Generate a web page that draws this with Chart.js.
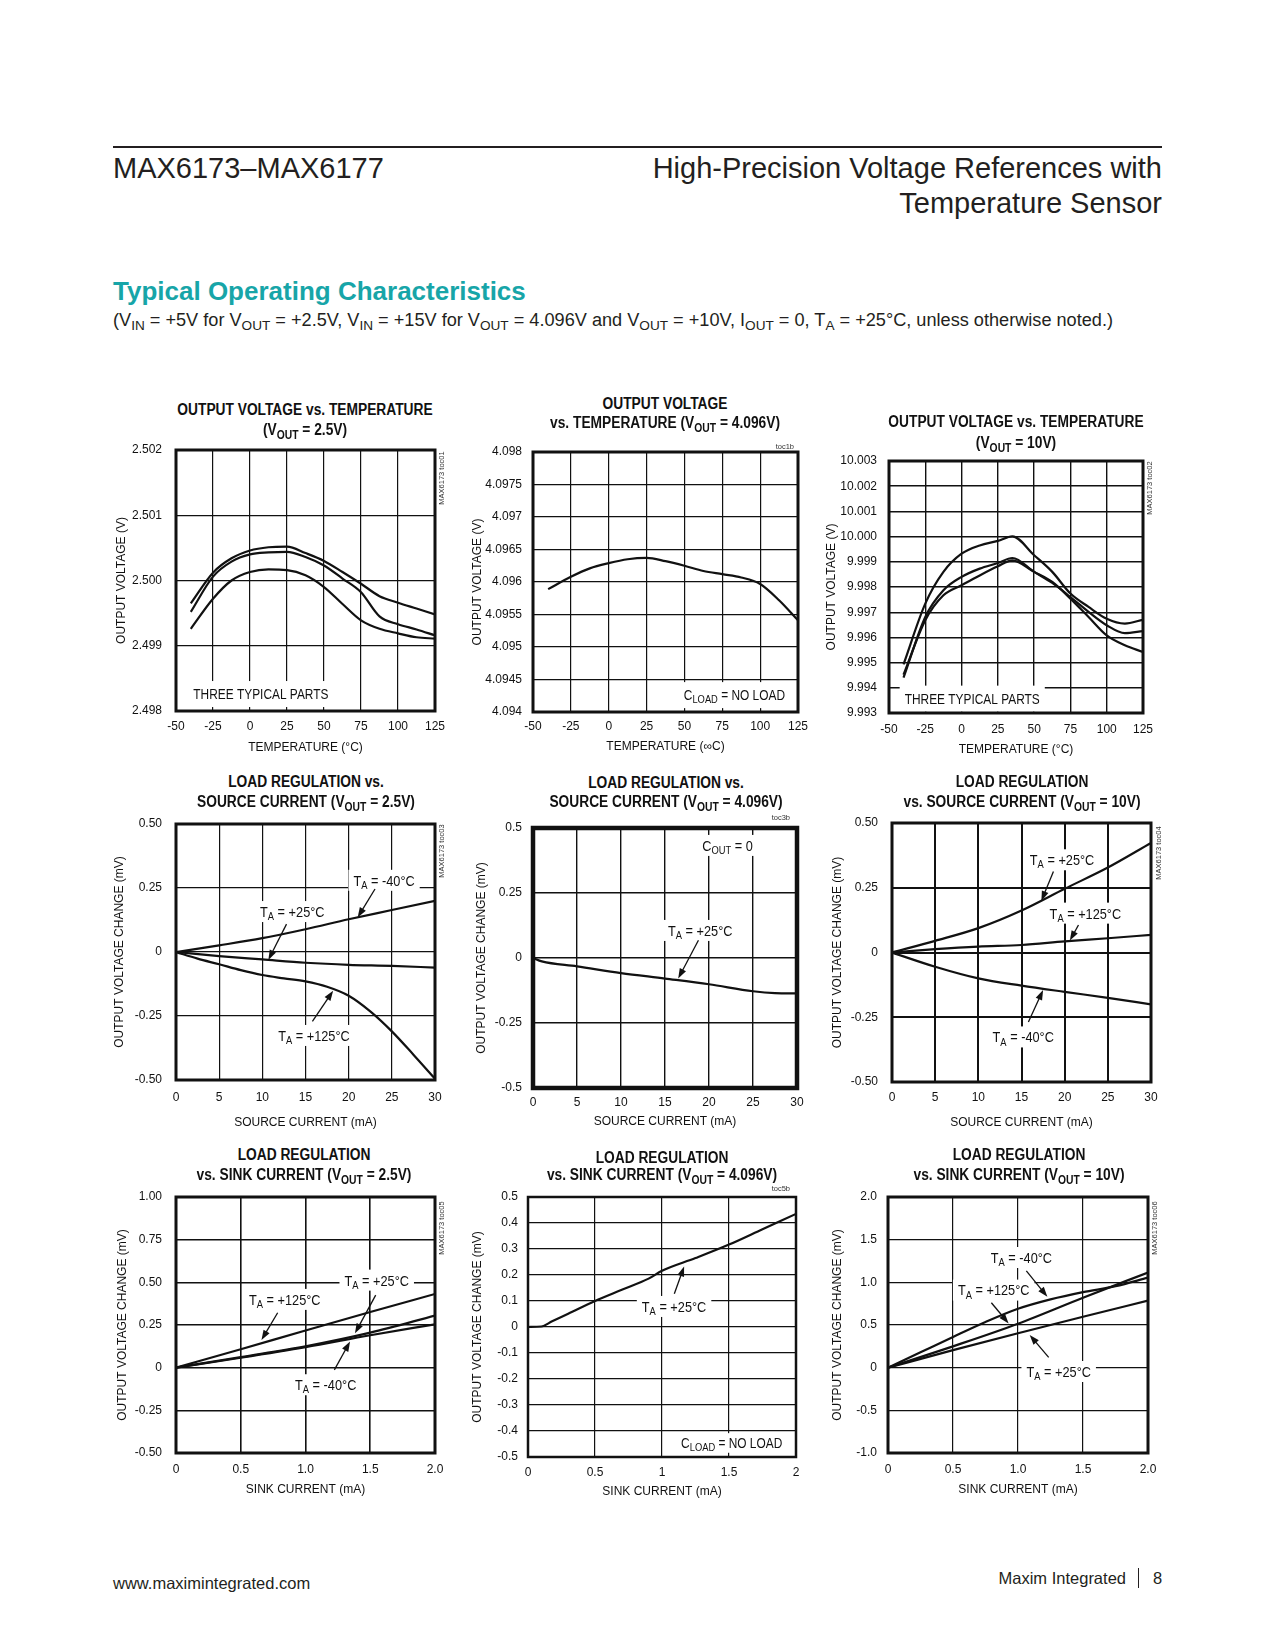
<!DOCTYPE html>
<html>
<head>
<meta charset="utf-8">
<script src="https://cdn.jsdelivr.net/npm/chart.js@4.4.0/dist/chart.umd.min.js"></script>
<style>
  body { margin: 0; background: #fff; }
  #page { position: relative; width: 1275px; height: 1650px; overflow: hidden;
          font-family: "Liberation Sans", Arial, sans-serif; color: #231f20; }
  .abs { position: absolute; white-space: nowrap; }
  .ct { position: absolute; white-space: nowrap; transform: translateX(-50%) scaleX(0.86);
        font-family: "Liberation Sans", Arial, sans-serif;
        font-weight: bold; font-size: 16px; line-height: 20px; color: #111; }
  sub { font-size: 0.75em; vertical-align: -0.3em; line-height: 0; }
  canvas { position: absolute; }
</style>
</head>
<body>
<div id="page">
  <div class="abs" style="left:113px;top:146px;width:1049px;height:2px;background:#231f20"></div>
  <div class="abs" style="left:113px;top:154px;font-size:29px;line-height:29px">MAX6173–MAX6177</div>
  <div class="abs" style="right:113px;top:154px;font-size:29px;line-height:29px">High-Precision Voltage References with</div>
  <div class="abs" style="right:113px;top:189px;font-size:29px;line-height:29px">Temperature Sensor</div>
  <div class="abs" style="left:113px;top:278px;font-size:26px;line-height:26px;font-weight:bold;color:#17a5a8">Typical Operating Characteristics</div>
  <div class="abs" style="left:113px;top:311px;font-size:18.15px;line-height:18px">(V<sub>IN</sub> = +5V for V<sub>OUT</sub> = +2.5V, V<sub>IN</sub> = +15V for V<sub>OUT</sub> = 4.096V and V<sub>OUT</sub> = +10V, I<sub>OUT</sub> = 0, T<sub>A</sub> = +25°C, unless otherwise noted.)</div>

  <div class="abs" style="left:113px;top:1575px;font-size:16.5px;line-height:16px">www.maximintegrated.com</div>
  <div class="abs" style="right:149px;top:1570px;font-size:16.5px;line-height:16px">Maxim Integrated</div>
  <div class="abs" style="left:1138px;top:1568px;width:1px;height:20px;background:#231f20"></div>
  <div class="abs" style="left:1153px;top:1570px;font-size:16.5px;line-height:16px">8</div>
</div>

<script>
const FONT = '"Liberation Sans", Arial, sans-serif';
const SQUEEZE = 0.85;   // the original uses a narrow face; canvas notes are squeezed to match

// ---- values ----
const tempPts = [-40, -25, -12.5, 0, 12.5, 25, 37.5, 50, 62.5, 75, 87.5, 100, 112.5, 125];
const part25A = [2.49965, 2.50012, 2.50034, 2.50046, 2.50051, 2.50052, 2.50042, 2.50030, 2.50013, 2.49995, 2.49976, 2.49966, 2.49957, 2.49948];
const part25B = [2.49952, 2.50006, 2.50029, 2.50040, 2.50043, 2.50044, 2.50036, 2.50023, 2.50003, 2.49982, 2.49945, 2.49933, 2.49925, 2.49916];
const part25C = [2.49926, 2.49972, 2.50000, 2.50013, 2.50017, 2.50016, 2.50008, 2.49990, 2.49964, 2.49939, 2.49926, 2.49919, 2.49913, 2.49911];

const vout4096 = [4.09589, 4.09608, 4.09621, 4.09629, 4.09635, 4.09637, 4.09632, 4.09625, 4.09617, 4.09612, 4.09607, 4.09597, 4.09572, 4.09541];

const tempPts10 = [-40, -25, -12.5, 0, 12.5, 25, 35, 50, 62.5, 75, 87.5, 100, 112.5, 125];
const part10A = [9.99493, 9.99734, 9.99860, 9.99932, 9.99965, 9.99983, 10.00001, 9.99926, 9.99860, 9.99774, 9.99721, 9.99674, 9.99655, 9.99670];
const part10B = [9.99440, 9.99681, 9.99787, 9.99840, 9.99873, 9.99895, 9.99915, 9.99860, 9.99816, 9.99760, 9.99701, 9.99648, 9.99617, 9.99625];
const part10C = [9.99452, 9.99668, 9.99767, 9.99807, 9.99846, 9.99882, 9.99906, 9.99860, 9.99820, 9.99754, 9.99681, 9.99608, 9.99569, 9.99542];

const srcPts = [0, 5, 10, 15, 20, 25, 30];
const srcPtsFine = [0, 2.5, 5, 7.5, 10, 12.5, 15, 17.5, 20, 22.5, 25, 27.5, 30];
const src25m40 = [0, 0.026, 0.054, 0.089, 0.128, 0.164, 0.200];
const src25p25 = [0, -0.016, -0.029, -0.042, -0.050, -0.054, -0.061];
const src25p125 = [0, -0.026, -0.048, -0.071, -0.090, -0.103, -0.115, -0.136, -0.171, -0.232, -0.310, -0.401, -0.495];

const srcPts4096 = [0, 1, 5, 10, 15, 20, 25, 27.5, 30];
const src4096 = [0, -0.013, -0.032, -0.058, -0.079, -0.101, -0.128, -0.135, -0.136];

const src10p25 = [0, 0.045, 0.094, 0.162, 0.246, 0.328, 0.423];
const src10p125 = [0, 0.013, 0.023, 0.029, 0.043, 0.055, 0.068];
const src10m40 = [0, -0.055, -0.100, -0.128, -0.152, -0.175, -0.200];

const sinkPts = [0, 0.5, 1.0, 1.5, 2.0];
const sink25p125 = [0, 0.108, 0.218, 0.326, 0.432];
const sink25p25 = [0, 0.062, 0.125, 0.205, 0.305];
const sink25m40 = [0, 0.058, 0.120, 0.190, 0.254];

const sinkPts4096 = [0, 0.1, 0.18, 0.3, 0.5, 0.7, 0.9, 1.0, 1.25, 1.5, 1.75, 2.0];
const sink4096 = [0, 0.002, 0.022, 0.051, 0.100, 0.143, 0.186, 0.216, 0.265, 0.317, 0.376, 0.435];

const sinkPts10 = [0, 0.25, 0.5, 0.75, 1.0, 1.25, 1.5, 1.75, 2.0];
const sink10m40 = [0, 0.18, 0.36, 0.535, 0.69, 0.80, 0.885, 0.955, 1.055];
const sink10p125 = [0, 0.25, 0.515, 0.82, 1.115];
const sink10p25 = [0, 0.205, 0.403, 0.597, 0.785];

// ---- axis ticks / labels ----
const tempTicks = [-50, -25, 0, 25, 50, 75, 100, 125];
const tempLabels = ['-50', '-25', '0', '25', '50', '75', '100', '125'];
const v25Ticks = [2.498, 2.499, 2.500, 2.501, 2.502];
const v25Labels = ['2.498', '2.499', '2.500', '2.501', '2.502'];
const v4096Ticks = [4.094, 4.0945, 4.095, 4.0955, 4.096, 4.0965, 4.097, 4.0975, 4.098];
const v4096Labels = ['4.094', '4.0945', '4.095', '4.0955', '4.096', '4.0965', '4.097', '4.0975', '4.098'];
const v10Ticks = [9.993, 9.994, 9.995, 9.996, 9.997, 9.998, 9.999, 10.000, 10.001, 10.002, 10.003];
const v10Labels = ['9.993', '9.994', '9.995', '9.996', '9.997', '9.998', '9.999', '10.000', '10.001', '10.002', '10.003'];
const srcTicks = [0, 5, 10, 15, 20, 25, 30];
const srcLabels = ['0', '5', '10', '15', '20', '25', '30'];
const mvHalfTicks = [-0.5, -0.25, 0, 0.25, 0.5];
const mvHalfLabels = ['-0.50', '-0.25', '0', '0.25', '0.50'];
const mvHalfLabelsShort = ['-0.5', '-0.25', '0', '0.25', '0.5'];
const sinkTicks = [0, 0.5, 1, 1.5, 2];
const sinkLabels = ['0', '0.5', '1.0', '1.5', '2.0'];
const sinkLabelsShort = ['0', '0.5', '1', '1.5', '2'];
const mvOneTicks = [-0.5, -0.25, 0, 0.25, 0.5, 0.75, 1];
const mvOneLabels = ['-0.50', '-0.25', '0', '0.25', '0.50', '0.75', '1.00'];
const mvTenthTicks = [-0.5, -0.4, -0.3, -0.2, -0.1, 0, 0.1, 0.2, 0.3, 0.4, 0.5];
const mvTenthLabels = ['-0.5', '-0.4', '-0.3', '-0.2', '-0.1', '0', '0.1', '0.2', '0.3', '0.4', '0.5'];
const mvTwoTicks = [-1, -0.5, 0, 0.5, 1, 1.5, 2];
const mvTwoLabels = ['-1.0', '-0.5', '0', '0.5', '1.0', '1.5', '2.0'];

const page = document.getElementById('page');

// rich text: {..} marks a subscript
function drawRich(ctx, cx, cy, str, size, align, bg, bgH) {
  const segs = str.split(/(\{[^}]*\})/).filter(Boolean)
    .map(s => s[0] === '{' ? { t: s.slice(1, -1), sub: true } : { t: s, sub: false });
  const fMain = size + 'px ' + FONT, fSub = Math.round(size * 0.75) + 'px ' + FONT;
  let w = 0;
  segs.forEach(s => { ctx.font = s.sub ? fSub : fMain; s.w = ctx.measureText(s.t).width * SQUEEZE; w += s.w; });
  let x = align === 'left' ? cx : cx - w / 2;
  if (bg) {
    const h = bgH || size * 1.4;
    ctx.fillStyle = '#fff';
    ctx.fillRect(x - 5, cy - h / 2, w + 10, h);
  }
  ctx.fillStyle = '#111';
  ctx.textAlign = 'left';
  ctx.textBaseline = 'alphabetic';
  const base = cy + size * 0.36;
  segs.forEach(s => {
    ctx.font = s.sub ? fSub : fMain;
    ctx.save();
    ctx.translate(x, base + (s.sub ? size * 0.22 : 0));
    ctx.scale(SQUEEZE, 1);
    ctx.fillText(s.t, 0, 0);
    ctx.restore();
    x += s.w;
  });
}

function drawArrow(ctx, x1, y1, x2, y2) {
  const a = Math.atan2(y2 - y1, x2 - x1), len = 10, hw = 3.5;
  const c = Math.cos(a), s = Math.sin(a);
  ctx.strokeStyle = '#111'; ctx.fillStyle = '#111'; ctx.lineWidth = 1.3;
  ctx.beginPath(); ctx.moveTo(x1, y1); ctx.lineTo(x2 - c * len * 0.8, y2 - s * len * 0.8); ctx.stroke();
  ctx.beginPath(); ctx.moveTo(x2, y2);
  ctx.lineTo(x2 - c * len + s * hw, y2 - s * len - c * hw);
  ctx.lineTo(x2 - c * len - s * hw, y2 - s * len + c * hw);
  ctx.closePath(); ctx.fill();
}

function makeDeco(o) {
  return {
    id: 'deco',
    beforeDatasetsDraw(chart) {
      const { ctx, scales: { x, y } } = chart;
      ctx.save();
      (o.notes || []).forEach(n => drawRich(ctx, x.getPixelForValue(n.x), y.getPixelForValue(n.y),
        n.t, n.size || 15, n.align, n.bg, n.bgH));
      ctx.restore();
    },
    afterDatasetsDraw(chart) {
      const { ctx, chartArea: a, scales: { x, y } } = chart;
      ctx.save();
      (o.arrows || []).forEach(r => drawArrow(ctx, x.getPixelForValue(r[0]), y.getPixelForValue(r[1]),
        x.getPixelForValue(r[2]), y.getPixelForValue(r[3])));
      ctx.strokeStyle = '#111';
      ctx.lineWidth = o.frame;
      ctx.strokeRect(a.left, a.top, a.right - a.left, a.bottom - a.top);
      if (o.tag) {
        ctx.font = '7.5px ' + FONT;
        ctx.fillStyle = '#333';
        ctx.textBaseline = 'middle';
        if (o.tag.rot) {
          ctx.translate(a.right + o.tag.dx, a.top + o.tag.dy);
          ctx.rotate(-Math.PI / 2);
          ctx.textAlign = 'center';
          ctx.fillText(o.tag.text, 0, 0);
        } else {
          ctx.textAlign = 'right';
          ctx.fillText(o.tag.text, a.right + o.tag.dx, a.top + o.tag.dy);
        }
      }
      ctx.restore();
    }
  };
}

function plot(o) {
  const [L, T, R, B] = o.box;
  const YW = 70, TOP = 30, RP = 26, XH = 56;
  const cv = document.createElement('canvas');
  cv.width = R - L + YW + RP;
  cv.height = B - T + TOP + XH;
  cv.style.left = (L - YW) + 'px';
  cv.style.top = (T - TOP) + 'px';
  page.appendChild(cv);

  o.title.forEach((line, i) => {
    const d = document.createElement('div');
    d.className = 'ct';
    d.style.left = o.titleX + 'px';
    d.style.top = (o.titleY + i * o.titleGap - 10) + 'px';
    d.innerHTML = line;
    page.appendChild(d);
  });

  new Chart(cv.getContext('2d'), {
    type: 'scatter',
    data: {
      datasets: o.series.map(s => ({
        data: s[0].map((x, i) => ({ x, y: s[1][i] })),
        showLine: true,
        borderColor: '#111',
        borderWidth: 2.2,
        pointRadius: 0,
        cubicInterpolationMode: 'monotone',
        fill: false
      }))
    },
    options: {
      responsive: false,
      animation: false,
      events: [],
      layout: { padding: { top: TOP, right: RP, left: 0, bottom: 0 } },
      plugins: { legend: { display: false }, tooltip: { enabled: false } },
      scales: {
        x: {
          type: 'linear',
          min: o.xTicks[0], max: o.xTicks[o.xTicks.length - 1],
          afterBuildTicks: s => { s.ticks = o.xTicks.map(v => ({ value: v })); },
          afterFit: s => { s.height = XH; },
          ticks: { callback: (v, i) => o.xLabels[i], color: '#111', font: { family: FONT, size: 12 },
                   padding: o.xTickOff - 7.2, maxRotation: 0, autoSkip: false },
          grid: { color: '#111', lineWidth: o.grid, drawTicks: false },
          border: { display: false },
          title: { display: true, text: o.xTitle, color: '#111', font: { family: FONT, size: 12 },
                   padding: { top: 0, bottom: 48.8 - o.xTitleOff } }
        },
        y: {
          type: 'linear',
          min: o.yTicks[0], max: o.yTicks[o.yTicks.length - 1],
          afterBuildTicks: s => { s.ticks = o.yTicks.map(v => ({ value: v })); },
          afterFit: s => { s.width = YW; },
          ticks: { callback: (v, i) => o.yLabels[i], color: '#111', font: { family: FONT, size: 12 },
                   padding: o.yPad, autoSkip: false },
          grid: { color: '#111', lineWidth: o.grid, drawTicks: false },
          border: { display: false },
          title: { display: true, text: o.yTitle, color: '#111', font: { family: FONT, size: 12 },
                   padding: { top: 62.8 + o.yTitleOff, bottom: 0 } }
        }
      }
    },
    plugins: [makeDeco(o)]
  });
}

const YV = 'OUTPUT VOLTAGE (V)', YMV = 'OUTPUT VOLTAGE CHANGE (mV)';

plot({
  box: [176, 450, 435, 711], frame: 3, grid: 1.2,
  title: ['OUTPUT VOLTAGE vs. TEMPERATURE', '(V<sub>OUT</sub> = 2.5V)'], titleX: 305, titleY: 410, titleGap: 20,
  series: [[tempPts, part25A], [tempPts, part25B], [tempPts, part25C]],
  xTicks: tempTicks, xLabels: tempLabels, yTicks: v25Ticks, yLabels: v25Labels,
  xTitle: 'TEMPERATURE (°C)', yTitle: YV, xTickOff: 16, xTitleOff: 37, yPad: 14, yTitleOff: -54,
  notes: [{ x: -38.3, y: 2.49826, t: 'THREE TYPICAL PARTS', size: 14, align: 'left', bg: true, bgH: 26 }],
  tag: { text: 'MAX6173 toc01', dx: 7, dy: 28, rot: true }
});

plot({
  box: [533, 452, 798, 712], frame: 3, grid: 1.2,
  title: ['OUTPUT VOLTAGE', 'vs. TEMPERATURE (V<sub>OUT</sub> = 4.096V)'], titleX: 665, titleY: 404, titleGap: 19,
  series: [[tempPts, vout4096]],
  xTicks: tempTicks, xLabels: tempLabels, yTicks: v4096Ticks, yLabels: v4096Labels,
  xTitle: 'TEMPERATURE (∞C)', yTitle: YV, xTickOff: 15, xTitleOff: 35, yPad: 11, yTitleOff: -55,
  notes: [{ x: 83, y: 4.09426, t: 'C{LOAD} = NO LOAD', size: 14, bg: true, bgH: 26 }],
  tag: { text: 'toc1b', dx: -4, dy: -5, rot: false }
});

plot({
  box: [889, 461, 1143, 713], frame: 3, grid: 1.4,
  title: ['OUTPUT VOLTAGE vs. TEMPERATURE', '(V<sub>OUT</sub> = 10V)'], titleX: 1016, titleY: 422, titleGap: 21,
  series: [[tempPts10, part10A], [tempPts10, part10B], [tempPts10, part10C]],
  xTicks: tempTicks, xLabels: tempLabels, yTicks: v10Ticks, yLabels: v10Labels,
  xTitle: 'TEMPERATURE (°C)', yTitle: YV, xTickOff: 17, xTitleOff: 37, yPad: 12, yTitleOff: -57,
  notes: [{ x: -39.2, y: 9.99357, t: 'THREE TYPICAL PARTS', size: 14, align: 'left', bg: true, bgH: 26 }],
  tag: { text: 'MAX6173 toc02', dx: 7, dy: 27, rot: true }
});

plot({
  box: [176, 824, 435, 1080], frame: 3, grid: 1.2,
  title: ['LOAD REGULATION vs.', 'SOURCE CURRENT (V<sub>OUT</sub> = 2.5V)'], titleX: 306, titleY: 782, titleGap: 20,
  series: [[srcPts, src25m40], [srcPts, src25p25], [srcPtsFine, src25p125]],
  xTicks: srcTicks, xLabels: srcLabels, yTicks: mvHalfTicks, yLabels: mvHalfLabels,
  xTitle: 'SOURCE CURRENT (mA)', yTitle: YMV, xTickOff: 18, xTitleOff: 43, yPad: 14, yTitleOff: -56,
  notes: [
    { x: 24.1, y: 0.28, t: 'T{A} = -40°C', bg: true },
    { x: 13.47, y: 0.158, t: 'T{A} = +25°C', bg: true },
    { x: 15.98, y: -0.326, t: 'T{A} = +125°C', bg: true }
  ],
  arrows: [[23.05, 0.246, 21.04, 0.135], [12.8, 0.109, 10.7, -0.031], [15.8, -0.271, 18.2, -0.151]],
  tag: { text: 'MAX6173 toc03', dx: 7, dy: 27, rot: true }
});

plot({
  box: [533, 828, 797, 1088], frame: 4.5, grid: 1.4,
  title: ['LOAD REGULATION  vs.', 'SOURCE CURRENT (V<sub>OUT</sub> = 4.096V)'], titleX: 666, titleY: 783, titleGap: 19,
  series: [[srcPts4096, src4096]],
  xTicks: srcTicks, xLabels: srcLabels, yTicks: mvHalfTicks, yLabels: mvHalfLabelsShort,
  xTitle: 'SOURCE CURRENT (mA)', yTitle: YMV, xTickOff: 15, xTitleOff: 34, yPad: 11, yTitleOff: -51,
  notes: [
    { x: 22.1, y: 0.433, t: 'C{OUT} = 0', bg: true },
    { x: 19.0, y: 0.106, t: 'T{A} = +25°C', bg: true }
  ],
  arrows: [[18.8, 0.068, 16.5, -0.079]],
  tag: { text: 'toc3b', dx: -7, dy: -10, rot: false }
});

plot({
  box: [892, 823, 1151, 1082], frame: 3, grid: 2,
  title: ['LOAD REGULATION', 'vs. SOURCE CURRENT (V<sub>OUT</sub> = 10V)'], titleX: 1022, titleY: 782, titleGap: 20,
  series: [[srcPts, src10p25], [srcPts, src10p125], [srcPts, src10m40]],
  xTicks: srcTicks, xLabels: srcLabels, yTicks: mvHalfTicks, yLabels: mvHalfLabels,
  xTitle: 'SOURCE CURRENT (mA)', yTitle: YMV, xTickOff: 16, xTitleOff: 41, yPad: 14, yTitleOff: -54,
  notes: [
    { x: 19.7, y: 0.358, t: 'T{A} = +25°C', bg: true },
    { x: 22.4, y: 0.152, t: 'T{A} = +125°C', bg: true },
    { x: 15.2, y: -0.326, t: 'T{A} = -40°C', bg: true }
  ],
  arrows: [[18.7, 0.313, 17.3, 0.199], [21.6, 0.106, 20.6, 0.046], [15.8, -0.268, 17.5, -0.145]],
  tag: { text: 'MAX6173 toc04', dx: 8, dy: 30, rot: true }
});

plot({
  box: [176, 1197, 435, 1453], frame: 3, grid: 1.6,
  title: ['LOAD REGULATION', 'vs. SINK CURRENT (V<sub>OUT</sub> = 2.5V)'], titleX: 304, titleY: 1155, titleGap: 20,
  series: [[sinkPts, sink25p125], [sinkPts, sink25p25], [sinkPts, sink25m40]],
  xTicks: sinkTicks, xLabels: sinkLabels, yTicks: mvOneTicks, yLabels: mvOneLabels,
  xTitle: 'SINK CURRENT (mA)', yTitle: YMV, xTickOff: 17, xTitleOff: 37, yPad: 14, yTitleOff: -53,
  notes: [
    { x: 0.84, y: 0.40, t: 'T{A} = +125°C', bg: true },
    { x: 1.55, y: 0.513, t: 'T{A} = +25°C', bg: true },
    { x: 1.156, y: -0.10, t: 'T{A} = -40°C', bg: true }
  ],
  arrows: [[0.785, 0.322, 0.66, 0.162], [1.542, 0.425, 1.382, 0.201], [1.223, -0.013, 1.344, 0.153]],
  tag: { text: 'MAX6173 toc05', dx: 7, dy: 31, rot: true }
});

plot({
  box: [528, 1197, 796, 1457], frame: 2.5, grid: 1.2,
  title: ['LOAD REGULATION', 'vs. SINK CURRENT (V<sub>OUT</sub> = 4.096V)'], titleX: 662, titleY: 1158, titleGap: 17,
  series: [[sinkPts4096, sink4096]],
  xTicks: sinkTicks, xLabels: sinkLabelsShort, yTicks: mvTenthTicks, yLabels: mvTenthLabels,
  xTitle: 'SINK CURRENT (mA)', yTitle: YMV, xTickOff: 16, xTitleOff: 35, yPad: 10, yTitleOff: -50,
  notes: [
    { x: 1.09, y: 0.079, t: 'T{A} = +25°C', bg: true },
    { x: 1.52, y: -0.446, t: 'C{LOAD} = NO LOAD', size: 14, bg: true }
  ],
  arrows: [[1.092, 0.128, 1.165, 0.233]],
  tag: { text: 'toc5b', dx: -6, dy: -8, rot: false }
});

plot({
  box: [888, 1197, 1148, 1453], frame: 3, grid: 1.2,
  title: ['LOAD REGULATION', 'vs. SINK CURRENT (V<sub>OUT</sub> = 10V)'], titleX: 1019, titleY: 1155, titleGap: 20,
  series: [[sinkPts10, sink10m40], [sinkPts, sink10p125], [sinkPts, sink10p25]],
  xTicks: sinkTicks, xLabels: sinkLabels, yTicks: mvTwoTicks, yLabels: mvTwoLabels,
  xTitle: 'SINK CURRENT (mA)', yTitle: YMV, xTickOff: 17, xTitleOff: 37, yPad: 11, yTitleOff: -50,
  notes: [
    { x: 1.026, y: 1.291, t: 'T{A} = -40°C', bg: true },
    { x: 0.813, y: 0.909, t: 'T{A} = +125°C', bg: true },
    { x: 1.313, y: -0.045, t: 'T{A} = +25°C', bg: true }
  ],
  arrows: [[1.064, 1.135, 1.226, 0.831], [0.795, 0.761, 0.928, 0.519], [1.236, 0.121, 1.09, 0.383]],
  tag: { text: 'MAX6173 toc06', dx: 7, dy: 31, rot: true }
});
</script>
</body>
</html>
